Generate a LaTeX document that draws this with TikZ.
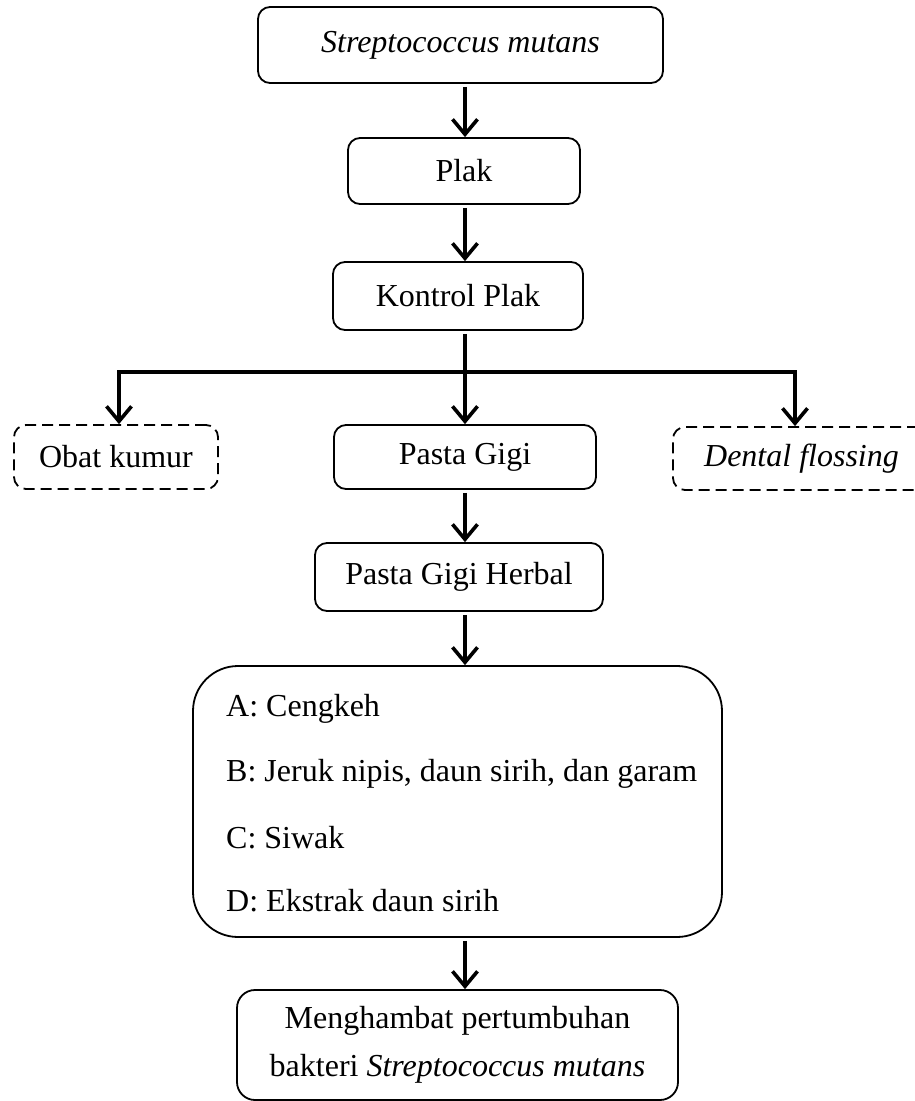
\documentclass[tikz,border=0pt]{standalone}
\usepackage{fontspec}
\setmainfont{Liberation Serif}
\usetikzlibrary{arrows.meta}
\begin{document}
\begin{tikzpicture}[x=1pt,y=-1pt,
  box/.style={draw, line width=1.8pt, rounded corners=12pt, inner sep=0pt, align=center,
    font=\fontsize{32}{48}\selectfont},
  dbox/.style={box, dash pattern=on 11pt off 6pt},
  txt/.style={inner sep=0pt, anchor=west, font=\fontsize{32}{38}\selectfont},
  conn/.style={line width=3.6pt},
  tip/.style={conn, -{Straight Barb[length=15pt,width=25pt]}},
  arr/.style={tip, shorten <=3pt}]
\useasboundingbox (0,0) rectangle (915,1101);
\coordinate (ax) at (465,0);
\node[box, minimum width=405pt, minimum height=76pt] (s1) at (460.5,45) {\itshape Streptococcus mutans};
\node[box, minimum width=232pt, minimum height=66pt] (plak) at (464,171) {Plak};
\node[box, minimum width=250pt, minimum height=68pt] (kontrol) at (458,296) {Kontrol Plak};
\node[dbox, minimum width=204pt, minimum height=64pt] (obat) at (116,457) {Obat kumur};
\node[box, minimum width=262pt, minimum height=64pt] (pasta) at (465,457) {Pasta Gigi\vphantom{y}};
\node[dbox, minimum width=257pt, minimum height=63pt] (dental) at (801.5,458.5) {\itshape Dental flossing};
\node[box, minimum width=288pt, minimum height=68pt] (herbal) at (459,577) {Pasta Gigi Herbal};
\node[box, rounded corners=45pt, minimum width=529pt, minimum height=271pt] (big) at (457.5,801.5) {};
\node[txt] (ta) at (226,709) {A: Cengkeh};
\node[txt] (tb) at (226,774) {B: Jeruk nipis, daun sirih, dan garam};
\node[txt] (tc) at (226,838) {C: Siwak};
\node[txt] (td) at (226,901) {D: Ekstrak daun sirih};
\node[box, rounded corners=18pt, minimum width=441pt, minimum height=110pt] (final) at (457.5,1045)
  {Menghambat pertumbuhan\\bakteri \textit{Streptococcus mutans}};
\coordinate (jl) at (119,372);
\coordinate (jr) at (795,372);
\draw[arr] (s1.south -| ax) -- (plak.north -| ax);
\draw[arr] (plak.south -| ax) -- (kontrol.north -| ax);
\draw[arr] (kontrol.south -| ax) -- (pasta.north -| ax);
\draw[conn, line cap=rect] (jl) -- (jr);
\draw[tip] (jl) -- (obat.north -| jl);
\draw[tip] (jr) -- (dental.north -| jr);
\draw[arr] (pasta.south -| ax) -- (herbal.north -| ax);
\draw[arr] (herbal.south -| ax) -- (big.north -| ax);
\draw[arr] (big.south -| ax) -- (final.north -| ax);
\end{tikzpicture}
\end{document}
